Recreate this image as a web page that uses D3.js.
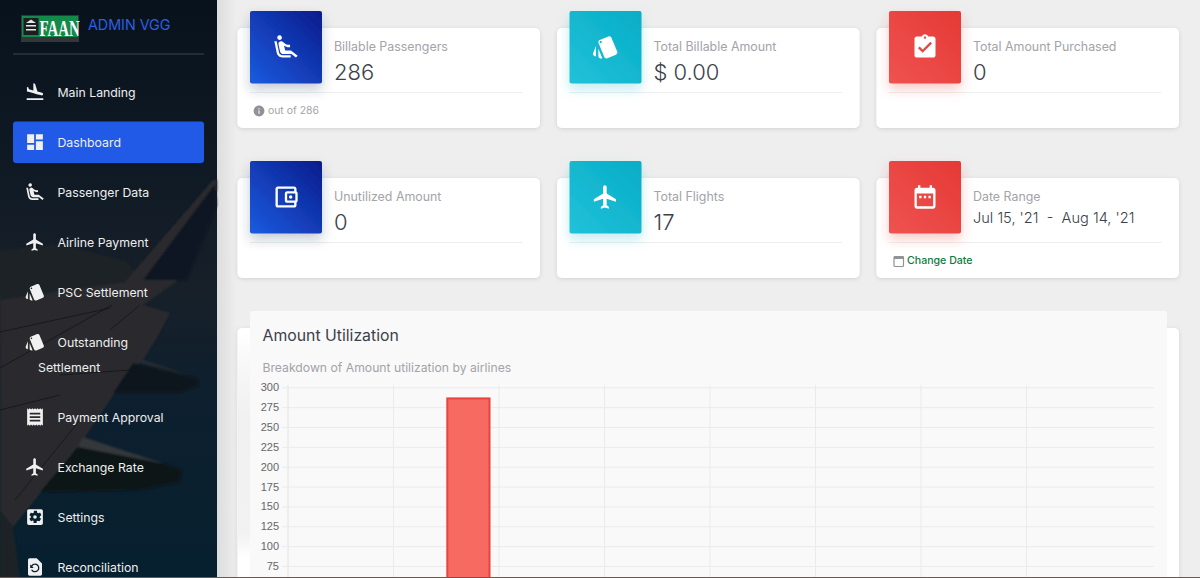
<!DOCTYPE html>
<html>
<head>
<meta charset="utf-8">
<script src="https://cdn.jsdelivr.net/npm/d3@7"></script>
<style>
    html, body { margin: 0; padding: 0; background: #eeeeee; overflow: hidden; }
    svg { display: block; }
    text { font-family: Inter, "Noto Sans", sans-serif; }
    .axisY text { font-family: "Liberation Sans", Arial, sans-serif; font-size: 11px; fill: #666; }
    .axisY line { stroke: #ebebeb; }
    .axisY path { display: none; }
</style>
</head>
<body>
<div id="page"></div>
<script>
// chart values (the lower ticks fall below the fold of the screenshot)
var yTicks = [75, 100, 125, 150, 175, 200, 225, 250, 275, 300];
var gridSlots = [0, 1, 2, 3, 4, 5, 6, 7];
var barSlots = [1.71];
var barValues = [286];

// page text
var navLabels = ["Main Landing", "Dashboard", "Passenger Data", "Airline Payment", "PSC Settlement", "Outstanding", "Payment Approval", "Exchange Rate", "Settings", "Reconciliation"];
var navIcons = ["land", "dash", "seat", "plane", "style", "style", "receipt", "plane", "gear", "restore"];
var cardTitles = ["Billable Passengers", "Total Billable Amount", "Total Amount Purchased", "Unutilized Amount", "Total Flights", "Date Range"];
var cardValues = ["286", "$ 0.00", "0", "0", "17", "Jul 15, '21  -  Aug 14, '21"];
var cardIcons = ["seat", "style", "assign", "wallet", "plane", "event"];
var cardColors = ["blue", "teal", "red", "blue", "teal", "red"];

var icons = {
    land: "M2.5 19h19v2h-19zm7.18-5.73l4.35 1.16 5.31 1.42c.8.21 1.62-.26 1.84-1.06.21-.8-.26-1.62-1.06-1.84l-5.31-1.42-2.76-9.02L10.12 2v8.28L5.15 8.95l-.93-2.32-1.45-.39v5.17l1.6.43 5.31 1.43z",
    dash: "M3 13h8V3H3v10zm0 8h8v-6H3v6zm10 0h8V11h-8v10zm0-18v6h8V3h-8z",
    seat: "M5.35 5.64c-.9-.64-1.12-1.88-.49-2.79.63-.9 1.88-1.12 2.79-.49.9.64 1.12 1.88.49 2.79-.64.9-1.88 1.12-2.79.49zM16 19H8.93c-1.48 0-2.74-1.08-2.96-2.54L4 7H2l1.99 9.76C4.37 19.2 6.47 21 8.94 21H16v-2zm.23-4h-4.88l-1.03-4.1c1.58.89 3.28 1.54 5.15 1.22V9.99c-1.63.31-3.44-.27-4.69-1.25L9.14 7.47c-.23-.18-.49-.3-.76-.38-.32-.09-.66-.12-.99-.06h-.02c-1.23.22-2.05 1.39-1.84 2.61l1.35 5.92C7.16 16.98 8.39 18 9.83 18h6.85l3.82 3 1.5-1.5-5.77-4.5z",
    plane: "M21 16v-2l-8-5V3.5c0-.83-.67-1.5-1.5-1.5S10 2.67 10 3.5V9l-8 5v2l8-2.5V19l-2 1.5V22l3.5-1 3.5 1v-1.5L13 19v-5.5l8 2.5z",
    style: "M2.53 19.65l1.34.56v-9.03l-2.43 5.86c-.41 1.02.08 2.19 1.09 2.61zm19.5-3.7L17.07 3.98c-.31-.75-1.04-1.21-1.81-1.23-.26 0-.53.04-.79.15L7.1 5.95c-.75.31-1.21 1.03-1.23 1.8-.01.27.04.54.15.8l4.96 11.97c.31.76 1.05 1.22 1.83 1.23.26 0 .52-.05.77-.15l7.36-3.05c1.02-.42 1.51-1.59 1.09-2.6zM7.88 8.75c-.55 0-1-.45-1-1s.45-1 1-1 1 .45 1 1-.45 1-1 1zm-2 11c0 1.1.9 2 2 2h1.45l-3.45-8.34v6.34z",
    receipt: "M18 17H6v-2h12v2zm0-4H6v-2h12v2zm0-4H6V7h12v2zM3 22l1.5-1.5L6 22l1.5-1.5L9 22l1.5-1.5L12 22l1.5-1.5L15 22l1.5-1.5L18 22l1.5-1.5L21 22V2l-1.5 1.5L18 2l-1.5 1.5L15 2l-1.5 1.5L12 2l-1.5 1.5L9 2 7.5 3.5 6 2 4.5 3.5 3 2v20z",
    gear: "M12 10c-1.1 0-2 .9-2 2s.9 2 2 2 2-.9 2-2-.9-2-2-2zm7-7H5c-1.11 0-2 .9-2 2v14c0 1.1.89 2 2 2h14c1.11 0 2-.9 2-2V5c0-1.1-.89-2-2-2zm-1.75 9c0 .23-.02.46-.05.68l1.48 1.16c.13.11.17.3.08.45l-1.4 2.42c-.09.15-.27.21-.43.15l-1.74-.7c-.36.28-.76.51-1.18.69l-.26 1.85c-.03.17-.18.3-.35.3h-2.8c-.17 0-.32-.13-.35-.3L10.5 16.8c-.43-.18-.82-.41-1.18-.69l-1.74.7c-.16.06-.34 0-.43-.15l-1.4-2.42c-.09-.15-.05-.34.08-.45l1.48-1.16c-.03-.22-.05-.45-.05-.68 0-.23.02-.46.05-.68l-1.48-1.16c-.13-.11-.17-.3-.08-.45l1.4-2.42c.09-.15.27-.21.43-.15l1.74.7c.36-.28.76-.51 1.18-.69l.26-1.85c.03-.17.18-.3.35-.3h2.8c.17 0 .32.13.35.3l.26 1.85c.43.18.82.41 1.18.69l1.74-.7c.16-.06.34 0 .43.15l1.4 2.42c.09.15.05.34-.08.45l-1.48 1.16c.03.22.05.45.05.68z",
    restore: "M14 2H6c-1.1 0-1.99.9-1.99 2L4 20c0 1.1.89 2 1.99 2H18c1.1 0 2-.9 2-2V8l-6-6zm-2 16c-2.05 0-3.81-1.24-4.58-3h1.71c.63.9 1.68 1.5 2.87 1.5 1.93 0 3.5-1.57 3.5-3.5S13.93 9.5 12 9.5c-1.35 0-2.52.78-3.1 1.9l1.6 1.6h-4V9l1.3 1.3C8.69 8.92 10.23 8 12 8c2.76 0 5 2.24 5 5s-2.24 5-5 5z",
    assign: "M19 3h-4.18C14.4 1.84 13.3 1 12 1c-1.3 0-2.4.84-2.82 2H5c-1.1 0-2 .9-2 2v14c0 1.1.9 2 2 2h14c1.1 0 2-.9 2-2V5c0-1.1-.9-2-2-2zm-7 0c.55 0 1 .45 1 1s-.45 1-1 1-1-.45-1-1 .45-1 1-1zm-2 14l-4-4 1.41-1.41L10 14.17l6.59-6.59L18 9l-8 8z",
    wallet: "M21 7.28V5c0-1.1-.9-2-2-2H5c-1.11 0-2 .9-2 2v14c0 1.1.89 2 2 2h14c1.1 0 2-.9 2-2v-2.28c.59-.35 1-.98 1-1.72V9c0-.74-.41-1.38-1-1.72zM20 9v6h-7V9h7zM5 19V5h14v2h-6c-1.1 0-2 .9-2 2v6c0 1.1.9 2 2 2h6v2H5zM16 10.5a1.5 1.5 0 1 0 0 3a1.5 1.5 0 1 0 0-3z",
    event: "M9 11H7v2h2v-2zm4 0h-2v2h2v-2zm4 0h-2v2h2v-2zm2-7h-1V2h-2v2H8V2H6v2H5c-1.11 0-1.99.9-1.99 2L3 20c0 1.1.89 2 2 2h14c1.1 0 2-.9 2-2V6c0-1.1-.9-2-2-2zm0 16H5V9h14v11z",
    info: "M12 2C6.48 2 2 6.48 2 12s4.48 10 10 10 10-4.48 10-10S17.52 2 12 2zm1 15h-2v-6h2v6zm0-8h-2V7h2v2z"
};

var svg = d3.select("#page").append("svg")
    .attr("width", 1200)
    .attr("height", 578);

var defs = svg.append("defs");

function addGradient(id, x1, y1, x2, y2, stops) {
    var g = defs.append("linearGradient").attr("id", id)
        .attr("x1", x1).attr("y1", y1).attr("x2", x2).attr("y2", y2);
    stops.forEach(function(s) {
        g.append("stop").attr("offset", s[0]).attr("stop-color", s[1]);
    });
}
addGradient("blue", 0, 1, 1, 0, [[0, "#1b5be0"], [1, "#091b8c"]]);
addGradient("teal", 0, 1, 1, 0, [[0, "#21c2d9"], [1, "#06acc6"]]);
addGradient("red", 0, 1, 1, 0, [[0, "#ef5350"], [1, "#e53935"]]);
addGradient("sky", 0, 0, 0, 1, [[0, "#08121d"], [0.3, "#101a25"], [0.5, "#172029"], [0.68, "#0e1f2e"], [1, "#06202f"]]);
addGradient("sideShadow", 0, 0, 1, 0, [[0, "#dcdddd"], [1, "#eeeeee"]]);
addGradient("cardStrip", 0, 0, 0, 1, [[0, "#ffffff"], [0.12, "#f8f8f8"], [0.35, "#f0f0f0"], [0.82, "#f2f2f2"], [0.92, "#ffffff"], [1, "#ffffff"]]);

var soft = defs.append("filter").attr("id", "soft")
    .attr("x", "-10%").attr("y", "-10%").attr("width", "120%").attr("height", "130%");
soft.append("feDropShadow").attr("dx", 0).attr("dy", 1).attr("stdDeviation", 2)
    .attr("flood-color", "#000").attr("flood-opacity", 0.12);

defs.append("filter").attr("id", "haze")
    .append("feGaussianBlur").attr("stdDeviation", 0.9);

["blue", "teal", "red"].forEach(function(name) {
    var c = {blue: "#1d3a5c", teal: "#12b5cc", red: "#e53935"}[name];
    var f = defs.append("filter").attr("id", "lift_" + name)
        .attr("x", "-30%").attr("y", "-30%").attr("width", "160%").attr("height", "170%");
    f.append("feDropShadow").attr("dx", 0).attr("dy", 6).attr("stdDeviation", 6)
        .attr("flood-color", c).attr("flood-opacity", 0.26);
});

function drawIcon(parent, name, cx, cy, size, color) {
    var k = size / 24;
    return parent.append("path")
        .attr("d", icons[name])
        .attr("transform", "translate(" + (cx - size / 2) + "," + (cy - size / 2) + ") scale(" + k + ")")
        .attr("fill", color);
}

drawSidebar();
drawCards();
drawChart();

// thin brown line at the very bottom of the screenshot
svg.append("rect").attr("x", 0).attr("y", 577).attr("width", 1200).attr("height", 1).attr("fill", "#6d5b49");

function drawSidebar() {
    svg.append("rect").attr("x", 217).attr("y", 0).attr("width", 20).attr("height", 578).attr("fill", "url(#sideShadow)");

    var side = svg.append("g");
    side.append("rect").attr("width", 217).attr("height", 578).attr("fill", "url(#sky)");

    var shapes = [
        // clouds on the left
        {fill: "#1e2327", pts: [[0,250],[60,244],[128,262],[150,300],[0,330]]},
        // wing surface
        {fill: "#292b2d", pts: [[0,300],[125,282],[213,180],[217,180],[217,190],[176,282],[143,305],[170,313],[157,337],[143,360],[130,370],[83,440],[43,490],[13,527],[0,510]]},
        // dark side of the winglet
        {fill: "#0e1721", pts: [[215,184],[143,280],[187,280],[217,205]]},
        // engine pods
        {fill: "#11171c", pts: [[133,363],[197,378],[199,385],[180,393],[113,393]]},
        {fill: "#2c2e30", pts: [[143,360],[189,375],[137,362]]},
        {fill: "#0f1418", pts: [[78,447],[163,463],[182,470],[180,482],[140,490],[40,492]]},
        {fill: "#34373a", pts: [[83,437],[165,464],[78,447]]},
        // lower left
        {fill: "#1f2428", pts: [[0,510],[13,527],[20,578],[0,578]]}
    ];
    var back = side.append("g").attr("filter", "url(#haze)");
    back.selectAll("polygon")
        .data(shapes)
        .enter()
        .append("polygon")
        .attr("points", function(d) { return d.pts.join(" "); })
        .attr("fill", function(d) { return d.fill; });

    var seams = [[0,368,112,305], [110,330,140,305], [0,332,110,308], [0,410,60,395], [15,500,80,420], [60,375,130,370]];
    side.selectAll("line")
        .data(seams)
        .enter()
        .append("line")
        .attr("x1", function(d) { return d[0]; })
        .attr("y1", function(d) { return d[1]; })
        .attr("x2", function(d) { return d[2]; })
        .attr("y2", function(d) { return d[3]; })
        .attr("stroke", "#111518")
        .attr("stroke-width", 0.8);

    // logo
    side.append("rect").attr("x", 21).attr("y", 15).attr("width", 58).attr("height", 27).attr("fill", "#33373a");
    side.append("rect").attr("x", 22).attr("y", 16).attr("width", 56).attr("height", 21).attr("fill", "#138a4a");
    side.append("rect").attr("x", 23.5).attr("y", 18).attr("width", 15).attr("height", 17).attr("fill", "#1b1f22");
    side.append("path").attr("d", "M31 19.5l5 3.5H26zM26 25h10v1.5H26zM26 29h10v1.5H26z").attr("fill", "#e8e8e8");
    // squeezed with a transform so the text box stays inside the logo
    side.append("text").attr("transform", "translate(39.5,35.5) scale(0.62,1)").text("FAAN")
        .attr("fill", "#fff")
        .style("font-family", "'Liberation Serif', serif")
        .style("font-weight", "bold")
        .style("font-size", "24px");

    side.append("text").attr("x", 88).attr("y", 30).text("ADMIN VGG")
        .attr("fill", "#2a5fe6")
        .style("font-size", "14.3px");

    side.append("line").attr("x1", 13).attr("x2", 204).attr("y1", 54).attr("y2", 54)
        .attr("stroke", "#b4b4b4").attr("stroke-opacity", 0.3);

    side.append("rect").attr("x", 13).attr("y", 121.5).attr("width", 191).attr("height", 41.5)
        .attr("rx", 3).attr("fill", "#205ae6");

    var y = 92;
    navLabels.forEach(function(label, i) {
        drawIcon(side, navIcons[i], 35, y, 21, "#f0f0f0");
        side.append("text").attr("x", 57.5).attr("y", y + 4.5).text(label)
            .attr("fill", "#eeeeee")
            .style("font-size", "12.3px");
        if (label == "Outstanding") {
            side.append("text").attr("x", 38).attr("y", y + 29.5).text("Settlement")
                .attr("fill", "#eeeeee")
                .style("font-size", "12.3px");
            y += 25;
        }
        y += 50;
    });
}

function drawCards() {
    var colX = [237.5, 557, 876.5];
    var rowY = [28, 178];

    cardTitles.forEach(function(title, i) {
        var x = colX[i % 3];
        var y = rowY[parseInt(i / 3)];
        var g = svg.append("g").attr("transform", "translate(" + x + "," + y + ")");

        g.append("rect").attr("width", 302.5).attr("height", 100).attr("rx", 5)
            .attr("fill", "#fff").attr("filter", "url(#soft)");
        g.append("line").attr("x1", 12.5).attr("x2", 285).attr("y1", 64.5).attr("y2", 64.5)
            .attr("stroke", "#eeeeee");

        g.append("rect").attr("x", 12.5).attr("y", -17).attr("width", 72).attr("height", 72.5).attr("rx", 2)
            .attr("fill", "url(#" + cardColors[i] + ")")
            .attr("filter", "url(#lift_" + cardColors[i] + ")");
        drawIcon(g, cardIcons[i], 48.5, 19, 28, "#fff");

        g.append("text").attr("x", 96.5).attr("y", 22.5).text(title)
            .attr("fill", "#a3a3a8")
            .style("font-size", "12.4px");

        var big = i == 5;
        g.append("text").attr("x", 96.5).attr("y", big ? 45 : 52).text(cardValues[i])
            .attr("fill", "#3c4148")
            .attr("xml:space", "preserve")
            .style("white-space", "pre")
            .style("font-size", big ? "14.6px" : "22px")
            .style("font-weight", 300);
    });

    // card footers
    drawIcon(svg, "info", 259, 111, 13, "#8f9296");
    svg.append("text").attr("x", 268).attr("y", 114).text("out of 286")
        .attr("fill", "#a3a3a8").style("font-size", "10.4px");

    svg.append("rect").attr("x", 894).attr("y", 256.5).attr("width", 9.5).attr("height", 10).attr("rx", 1)
        .attr("fill", "none").attr("stroke", "#8f9296").attr("stroke-width", 1.2);
    svg.append("rect").attr("x", 894).attr("y", 256).attr("width", 9.5).attr("height", 3).attr("fill", "#8f9296");
    svg.append("text").attr("x", 907).attr("y", 264).text("Change Date")
        .attr("fill", "#0f7b3f").style("font-size", "10.6px").style("font-weight", 500);
}

function drawChart() {
    svg.append("rect").attr("x", 237.5).attr("y", 328).attr("width", 941.5).attr("height", 300).attr("rx", 5)
        .attr("fill", "#fff").attr("filter", "url(#soft)");
    svg.append("rect").attr("x", 238).attr("y", 332).attr("width", 12).attr("height", 246)
        .attr("fill", "url(#cardStrip)");
    svg.append("rect").attr("x", 250).attr("y", 311).attr("width", 917).attr("height", 300).attr("rx", 3)
        .attr("fill", "#f9f9f9");

    svg.append("text").attr("x", 262.5).attr("y", 341).text("Amount Utilization")
        .attr("fill", "#3c4148").style("font-size", "15.8px");
    svg.append("text").attr("x", 262.5).attr("y", 371.5).text("Breakdown of Amount utilization by airlines")
        .attr("fill", "#a3a3a8").style("font-size", "12.2px");

    var x = d3.scaleLinear()
        .domain([0, 7])
        .range([288, 1026.5]);
    var y = d3.scaleLinear()
        .domain([0, 300])
        .range([625.6, 387.3]);

    // vertical gridlines
    svg.append("g").selectAll("line")
        .data(gridSlots)
        .enter()
        .append("line")
        .attr("x1", function(d) { return x(d); })
        .attr("x2", function(d) { return x(d); })
        .attr("y1", 385)
        .attr("y2", 578)
        .attr("stroke", function(d) { return d == 0 ? "#e2e2e2" : "#ebebeb"; });

    var axisY = d3.axisLeft(y)
        .tickValues(yTicks)
        .tickSize(-(1154 - 288))
        .tickPadding(9);
    var axisG = svg.append("g")
        .attr("class", "axisY")
        .attr("transform", "translate(288,0)")
        .call(axisY);
    // little tick stubs left of the axis
    axisG.selectAll(".tick line").attr("x1", -6);

    svg.append("g").selectAll("rect")
        .data(barValues)
        .enter()
        .append("rect")
        .attr("x", function(d, i) { return x(barSlots[i] - 0.2); })
        .attr("y", function(d) { return y(d); })
        .attr("width", function(d, i) { return x(barSlots[i] + 0.2) - x(barSlots[i] - 0.2); })
        .attr("height", function(d) { return y(0) - y(d); })
        .attr("fill", "#f66a62")
        .attr("stroke", "#e8443d")
        .attr("stroke-width", 2);
}
</script>
</body>
</html>
